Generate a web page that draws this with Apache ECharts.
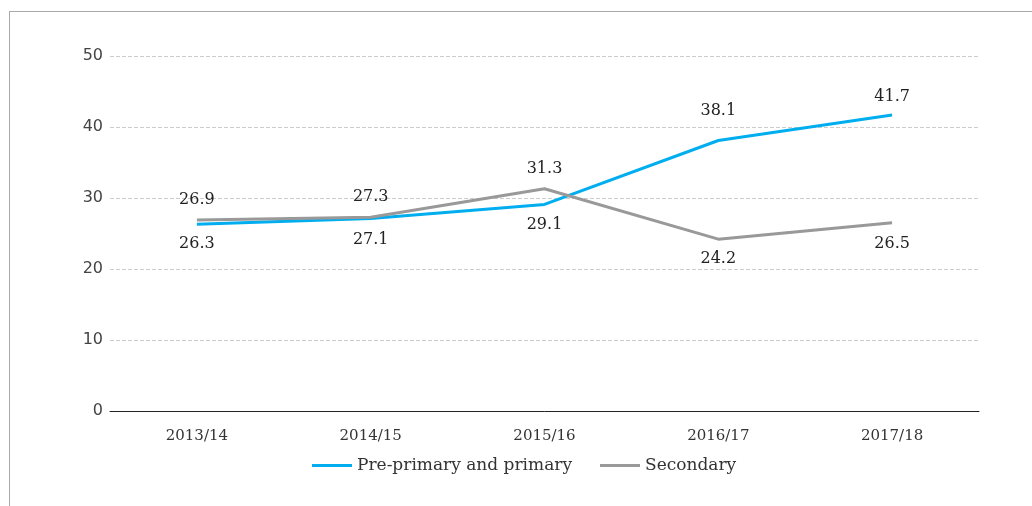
<!DOCTYPE html>
<html>
<head>
<meta charset="utf-8">
<script src="https://cdn.jsdelivr.net/npm/echarts@6/dist/echarts.min.js"></script>
<style>
  html, body { margin: 0; padding: 0; background: #fff; }
  #frame { position: absolute; left: 9px; top: 11px; width: 1040px; height: 520px;
           border-left: 1px solid #aaa; border-top: 1px solid #aaa; box-sizing: border-box; }
  #chart { position: absolute; left: 0; top: 0; width: 1032px; height: 506px; }
</style>
</head>
<body>
<div id="frame"></div>
<div id="chart"></div>
<script>
const years = ['2013/14', '2014/15', '2015/16', '2016/17', '2017/18'];
const prePrimary = [26.3, 27.1, 29.1, 38.1, 41.7];
const secondary = [26.9, 27.3, 31.3, 24.2, 26.5];

// value-label placement for each point
const prePrimaryLabels = [
  { position: 'bottom', distance: 12 },
  { position: 'bottom', distance: 13 },
  { position: 'bottom', distance: 12 },
  { position: 'top', distance: 22 },
  { position: 'top', distance: 10 }
];
const secondaryLabels = [
  { position: 'top', distance: 12 },
  { position: 'top', distance: 12 },
  { position: 'top', distance: 12 },
  { position: 'bottom', distance: 12 },
  { position: 'bottom', distance: 13 }
];

const serif = '"DejaVu Serif", "Liberation Serif", serif';

function points(values, labels) {
  return values.map((v, i) => ({ value: v, label: labels[i] }));
}

const chart = echarts.init(document.getElementById('chart'), null, { renderer: 'canvas' });
chart.setOption({
  animation: false,
  grid: { left: 110, right: 53, top: 56, bottom: 95 },
  legend: {
    top: 452,
    left: 307,
    itemWidth: 40,
    itemHeight: 3,
    itemGap: 28,
    icon: 'rect',
    textStyle: { fontFamily: serif, fontSize: 17, color: '#333' },
    data: ['Pre-primary and primary', 'Secondary']
  },
  xAxis: {
    type: 'category',
    data: years,
    boundaryGap: true,
    axisLine: { lineStyle: { color: '#222', width: 1 } },
    axisTick: { show: false },
    axisLabel: { fontFamily: serif, fontSize: 15, color: '#333', margin: 18 }
  },
  yAxis: {
    type: 'value',
    min: 0, max: 50, interval: 10,
    axisLine: { show: false },
    axisTick: { show: false },
    axisLabel: { fontFamily: '"DejaVu Sans", sans-serif', fontSize: 16, color: '#444', margin: 7 },
    splitLine: { lineStyle: { color: '#ccc', type: 'dashed', width: 1 } }
  },
  series: [
    {
      name: 'Pre-primary and primary',
      type: 'line',
      data: points(prePrimary, prePrimaryLabels),
      showSymbol: true,
      symbol: 'circle',
      symbolSize: 0,
      lineStyle: { color: '#00AEEF', width: 3 },
      itemStyle: { color: '#00AEEF' },
      label: { show: true, fontFamily: serif, fontSize: 16, color: '#222' }
    },
    {
      name: 'Secondary',
      type: 'line',
      data: points(secondary, secondaryLabels),
      showSymbol: true,
      symbol: 'circle',
      symbolSize: 0,
      lineStyle: { color: '#999', width: 3 },
      itemStyle: { color: '#999' },
      label: { show: true, fontFamily: serif, fontSize: 16, color: '#222' }
    }
  ]
});
</script>
</body>
</html>
